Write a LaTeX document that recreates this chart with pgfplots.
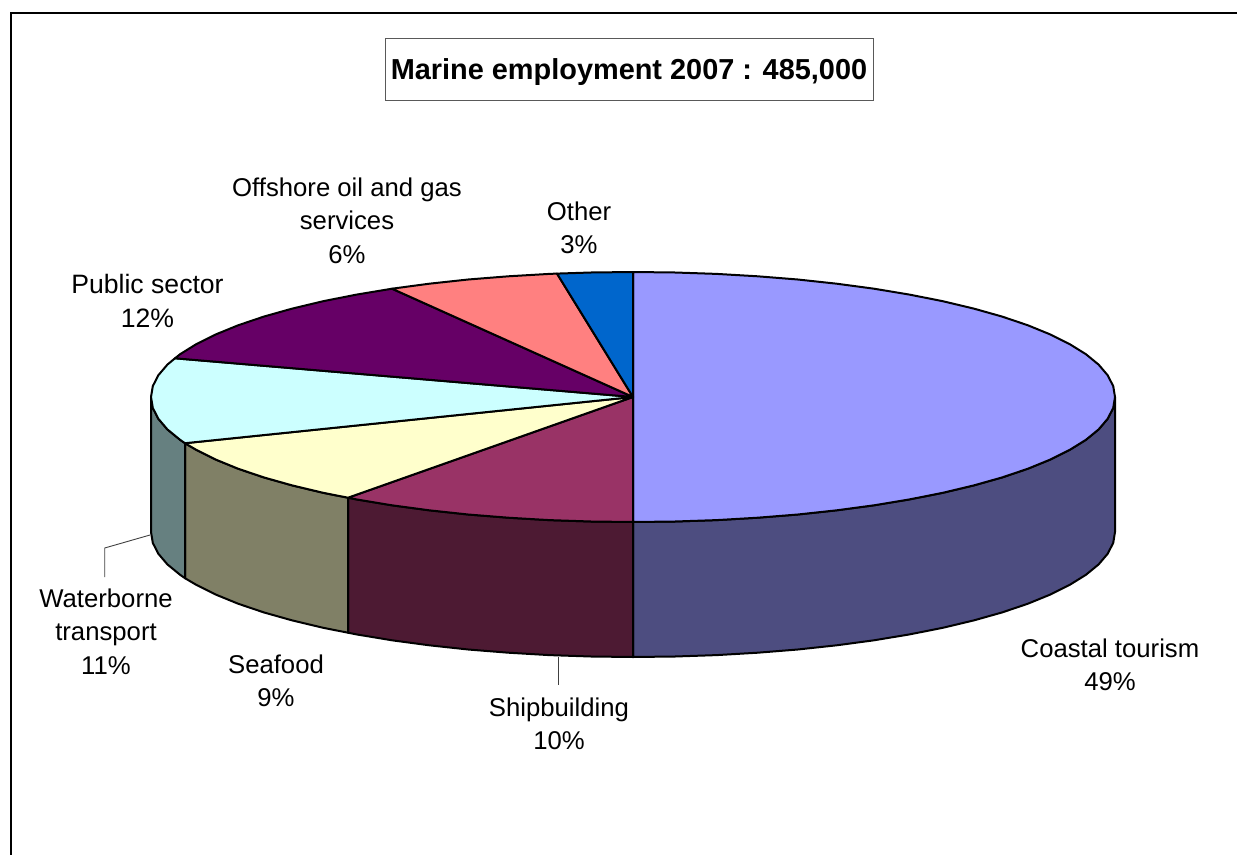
\documentclass[border=0pt]{standalone}
\usepackage{pgfplots}
\pgfplotsset{compat=1.18}
\usepackage{fontspec}
\setmainfont{Liberation Sans}
\definecolor{coastT}{HTML}{9999FF}\definecolor{coastS}{HTML}{4D4D80}
\definecolor{shipT}{HTML}{993366}\definecolor{shipS}{HTML}{4D1A33}
\definecolor{seaT}{HTML}{FFFFCC}\definecolor{seaS}{HTML}{808066}
\definecolor{waterT}{HTML}{CCFFFF}\definecolor{waterS}{HTML}{668080}
\definecolor{pubT}{HTML}{660066}\definecolor{offT}{HTML}{FF8080}\definecolor{othT}{HTML}{0066CC}
\tikzset{
  lab/.style={font=\fontsize{25.8}{33.5}\selectfont, align=center, anchor=center, inner sep=0pt},
  pie/.style={draw=black, line width=2bp, line join=round},
}
\begin{document}
\begin{tikzpicture}
\begin{axis}[
  scale only axis, width=1237bp, height=855bp,
  xmin=0, xmax=1237, ymin=0, ymax=855, y dir=reverse,
  hide axis,
]
% invisible corners fix the page
\addplot[draw=none, forget plot] coordinates {(0,0) (1237,855)};
% frame: only the top and left edges are inside the picture
\addplot[black, line width=2bp, forget plot] coordinates {(1237,13) (11,13) (11,855)};
% side walls
\addplot[pie, fill=coastS] coordinates {(1115,397) (1113.2,407.9) (1107.7,418.7) (1098.6,429.4) (1085.9,439.8) (1069.8,449.8) (1050.4,459.5) (1027.9,468.7) (1002.2,477.4) (973.8,485.4) (942.8,492.8) (909.5,499.4) (874,505.3) (836.7,510.3) (797.8,514.5) (757.7,517.7) (716.7,520.1) (675,521.5) (633,522)
 (633,657) (675,656.5) (716.7,655.1) (757.7,652.7) (797.8,649.5) (836.7,645.3) (874,640.3) (909.5,634.4) (942.8,627.8) (973.8,620.4) (1002.2,612.4) (1027.9,603.7) (1050.4,594.5) (1069.8,584.8) (1085.9,574.8) (1098.6,564.4) (1107.7,553.7) (1113.2,542.9) (1115,532)} --cycle;
\addplot[pie, fill=shipS] coordinates {(633,522) (591,521.5) (549.3,520.1) (508.3,517.7) (468.2,514.5) (429.3,510.3) (392,505.3) (356.5,499.4) (348,497.7)
 (348,632.7) (356.5,634.4) (392,640.3) (429.3,645.3) (468.2,649.5) (508.3,652.7) (549.3,655.1) (591,656.5) (633,657)} --cycle;
\addplot[pie, fill=seaS] coordinates {(348,497.7) (323.2,492.8) (292.2,485.4) (263.8,477.4) (238.1,468.7) (215.6,459.5) (196.2,449.8) (185,443.2)
 (185,578.2) (196.2,584.8) (215.6,594.5) (238.1,603.7) (263.8,612.4) (292.2,620.4) (323.2,627.8) (348,632.7)} --cycle;
\addplot[pie, fill=waterS] coordinates {(185,443.2) (180.1,439.8) (167.4,429.4) (158.3,418.7) (152.8,407.9) (151,397)
 (151,532) (152.8,542.9) (158.3,553.7) (167.4,564.4) (180.1,574.8) (185,578.2)} --cycle;
% top face
\addplot[pie, fill=coastT] coordinates {(633,397) (633,272) (675,272.5) (716.7,273.9) (757.7,276.3) (797.8,279.5) (836.7,283.7) (874,288.7) (909.5,294.6) (942.8,301.2) (973.8,308.6) (1002.2,316.6) (1027.9,325.3) (1050.4,334.5) (1069.8,344.2) (1085.9,354.2) (1098.6,364.6) (1107.7,375.3) (1113.2,386.1) (1115,397) (1113.2,407.9) (1107.7,418.7) (1098.6,429.4) (1085.9,439.8) (1069.8,449.8) (1050.4,459.5) (1027.9,468.7) (1002.2,477.4) (973.8,485.4) (942.8,492.8) (909.5,499.4) (874,505.3) (836.7,510.3) (797.8,514.5) (757.7,517.7) (716.7,520.1) (675,521.5) (633,522)} --cycle;
\addplot[pie, fill=shipT] coordinates {(633,397) (633,522) (591,521.5) (549.3,520.1) (508.3,517.7) (468.2,514.5) (429.3,510.3) (392,505.3) (356.5,499.4) (348,497.7)} --cycle;
\addplot[pie, fill=seaT] coordinates {(633,397) (348,497.7) (323.2,492.8) (292.2,485.4) (263.8,477.4) (238.1,468.7) (215.6,459.5) (196.2,449.8) (185,443.2)} --cycle;
\addplot[pie, fill=waterT] coordinates {(633,397) (185,443.2) (180.1,439.8) (167.4,429.4) (158.3,418.7) (152.8,407.9) (151,397) (152.8,386.1) (158.3,375.3) (167.4,364.6) (175,358.3)} --cycle;
\addplot[pie, fill=pubT] coordinates {(633,397) (175,358.3) (180.1,354.2) (196.2,344.2) (215.6,334.5) (238.1,325.3) (263.8,316.6) (292.2,308.6) (323.2,301.2) (356.5,294.6) (392,288.7)} --cycle;
\addplot[pie, fill=offT] coordinates {(633,397) (392,288.7) (429.3,283.7) (468.2,279.5) (508.3,276.3) (549.3,273.9) (557,273.6)} --cycle;
\addplot[pie, fill=othT] coordinates {(633,397) (557,273.6) (591,272.5) (633,272)} --cycle;
% leader lines
\addplot[black!75, line width=0.9bp] coordinates {(150,535) (104.7,548) (104.7,577)};
\addplot[black!75, line width=0.9bp] coordinates {(558.7,657) (558.7,685)};
% title box
\addplot[draw=black!65, fill=white, line width=1bp] coordinates {(385,39) (873,39) (873,101) (385,101)} --cycle;
\node[font=\fontsize{29}{34}\selectfont\bfseries, anchor=center, inner sep=0pt] at (axis cs:629,72) {Marine employment 2007 : 485,000};
% labels
\node[lab] at (axis cs:347,220.5) {Offshore oil and gas\\services\\6\%};
\node[lab] at (axis cs:579,227.5) {Other\\3\%};
\node[lab, font=\fontsize{26.7}{33.5}\selectfont] at (axis cs:147.5,301) {Public sector\\12\%};
\node[lab] at (axis cs:106,631.5) {Waterborne\\transport\\11\%};
\node[lab] at (axis cs:276,681) {Seafood\\9\%};
\node[lab] at (axis cs:559,724) {Shipbuilding\\10\%};
\node[lab] at (axis cs:1110,664.5) {Coastal tourism\\49\%};
\end{axis}
\end{tikzpicture}
\end{document}
